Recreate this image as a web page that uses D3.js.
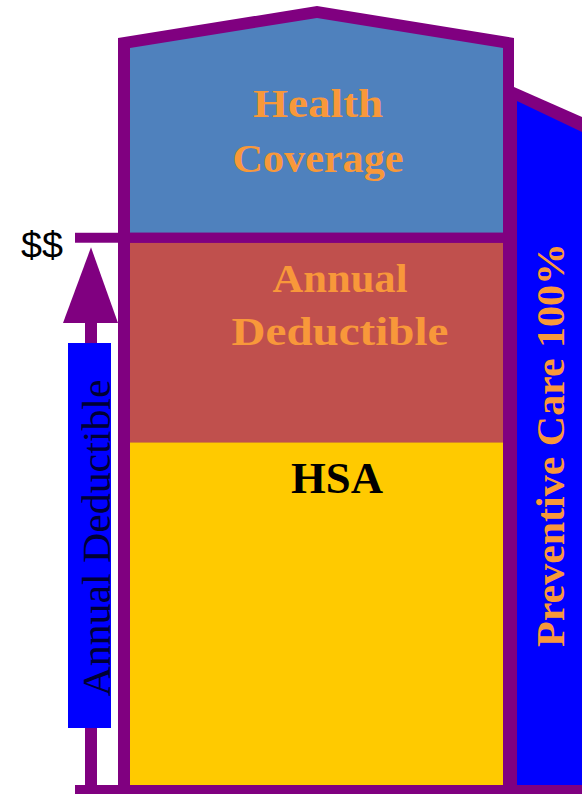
<!DOCTYPE html>
<html>
<head>
<meta charset="utf-8">
<script src="https://cdn.jsdelivr.net/npm/d3@7"></script>
<style>
  html, body { margin: 0; padding: 0; background: #fff; }
  svg { display: block; }
</style>
</head>
<body>
<div id="chart"></div>
<script>
// House diagram: HSA / deductible / coverage layers
var layerNames = ["HSA", "Annual Deductible", "Health Coverage"];
var layerFrom = [0, 44.7, 72.0];        // level where each layer starts (0 = floor, 100 = roof peak)
var layerTo = [44.7, 70.7, 100];
var layerLines = [["HSA"], ["Annual", "Deductible"], ["Health", "Coverage"]];
var deductibleLevel = 71.4;              // the "$$" mark
var sideLabelLeft = "Annual Deductible";
var sideLabelRight = "Preventive Care 100%";
var markLabel = "$$";

var W = 582, H = 794;
var purple = "#800080", pureBlue = "#0000FF", orange = "#F8983A";
var layerFill = ["#FFCA00", "#C0504D", "#4F81BD"];

var svg = d3.select("#chart").append("svg")
    .attr("width", W)
    .attr("height", H);

// level scale: floor at 785, roof peak (inner) at 18
var y = d3.scaleLinear().domain([0, 100]).range([785, 18]);
var x = d3.scaleLinear().domain([0, 1]).range([130, 503]);   // inner width of house

var wallTop = 48, eave = 10, peakX = 317;

// right annex (preventive care)
svg.append("polygon")
    .attr("points", [[514, 87], [582, 117], [582, H], [514, H]].join(" "))
    .attr("fill", purple);
svg.append("polygon")
    .attr("points", [[517, 101], [582, 132], [582, y(0)], [517, y(0)]].join(" "))
    .attr("fill", pureBlue);

// house outline
svg.append("polygon")
    .attr("points", [[x(0) - 12, H], [x(0) - 12, wallTop - eave], [peakX, y(100) - 12],
        [x(1) + 11, wallTop - eave], [x(1) + 11, H]].join(" "))
    .attr("fill", purple);

// layers
layerNames.forEach(function (name, i) {
    var top = y(layerTo[i]), bottom = y(layerFrom[i]);
    var pts;
    if (layerTo[i] >= 100) {
        pts = [[x(0), bottom], [x(0), wallTop], [peakX, top], [x(1), wallTop], [x(1), bottom]];
    } else {
        pts = [[x(0), bottom], [x(0), top], [x(1), top], [x(1), bottom]];
    }
    svg.append("polygon")
        .attr("points", pts.join(" "))
        .attr("fill", layerFill[i]);
});

// $$ bar across the house
svg.append("rect")
    .attr("x", 75).attr("y", y(layerFrom[2]))
    .attr("width", x(1) + 11 - 75)
    .attr("height", y(layerTo[1]) - y(layerFrom[2]))
    .attr("fill", purple);

// floor
svg.append("rect")
    .attr("x", 75).attr("y", y(0))
    .attr("width", W - 75).attr("height", H - y(0))
    .attr("fill", purple);

// layer labels
var labelSpecs = [
    { cx: 337, base: [493], size: 44, color: "#000", lens: [92] },
    { cx: 340, base: [292, 345], size: 40, color: orange, lens: [135, 217] },
    { cx: 318, base: [117, 172], size: 40, color: orange, lens: [130, 171] }
];
layerLines.forEach(function (lines, i) {
    var s = labelSpecs[i];
    lines.forEach(function (t, j) {
        svg.append("text")
            .attr("x", s.cx).attr("y", s.base[j])
            .attr("text-anchor", "middle")
            .attr("font-family", "'Liberation Serif', 'DejaVu Serif', serif")
            .attr("font-weight", "bold")
            .attr("font-size", s.size)
            .attr("fill", s.color)
            .attr("textLength", s.lens[j])
            .attr("lengthAdjust", "spacingAndGlyphs")
            .text(t);
    });
});

// left arrow: deductible
var tipY = y(deductibleLevel) + 10;
svg.append("rect")
    .attr("x", 85).attr("y", 320)
    .attr("width", 12).attr("height", y(0) - 320)
    .attr("fill", purple);
svg.append("polygon")
    .attr("points", [[91, tipY], [63, 323], [118, 323]].join(" "))
    .attr("fill", purple);
svg.append("rect")
    .attr("x", 68).attr("y", 343)
    .attr("width", 43).attr("height", 385)
    .attr("fill", pureBlue);
svg.append("text")
    .attr("transform", "translate(110,538) rotate(-90)")
    .attr("text-anchor", "middle")
    .attr("font-family", "'Liberation Serif', 'DejaVu Serif', serif")
    .attr("font-size", 40)
    .attr("fill", "#000033")
    .attr("textLength", 317)
    .attr("lengthAdjust", "spacingAndGlyphs")
    .text(sideLabelLeft);

svg.append("text")
    .attr("x", 21).attr("y", 258)
    .attr("font-family", "'Liberation Sans', Arial, sans-serif")
    .attr("font-size", 37)
    .attr("fill", "#000")
    .attr("textLength", 42)
    .attr("lengthAdjust", "spacingAndGlyphs")
    .text(markLabel);

// right label
svg.append("text")
    .attr("transform", "translate(564,445) rotate(-90)")
    .attr("text-anchor", "middle")
    .attr("font-family", "'Liberation Serif', 'DejaVu Serif', serif")
    .attr("font-weight", "bold")
    .attr("font-size", 40)
    .attr("fill", orange)
    .attr("textLength", 404)
    .attr("lengthAdjust", "spacingAndGlyphs")
    .text(sideLabelRight);
</script>
</body>
</html>
